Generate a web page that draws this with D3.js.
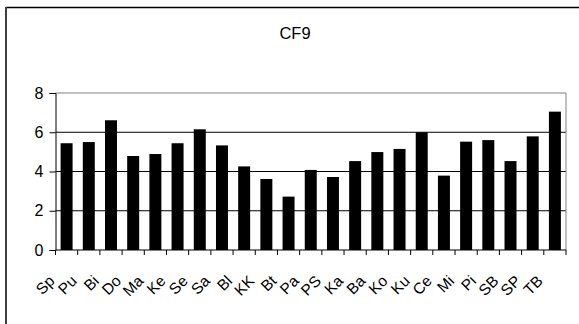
<!DOCTYPE html>
<html>
<head>
<meta charset="utf-8">
<script src="https://cdn.jsdelivr.net/npm/d3@7/dist/d3.min.js"></script>
<style>
  html, body { margin: 0; padding: 0; background: #fff; }
  svg { display: block; }
  text { font-family: "Liberation Sans", Arial, sans-serif; fill: #000; }
</style>
</head>
<body>
<svg id="chart" width="579" height="324"></svg>
<script>
// Site codes along the category axis
const categories = ["Sp", "Pu", "Bi", "Do", "Ma", "Ke", "Se", "Sa", "Bl", "KK", "Bt",
                    "Pa", "PS", "Ka", "Ba", "Ko", "Ku", "Ce", "Mi", "Pi", "SB", "SP", "TB"];
// CF9 value per site
const values = [5.44, 5.50, 6.61, 4.79, 4.89, 5.44, 6.15, 5.33, 4.26, 3.62, 2.72,
                4.08, 3.72, 4.53, 4.99, 5.15, 6.00, 3.79, 5.52, 5.60, 4.53, 5.79, 7.05];
const yTicks = [0, 2, 4, 6, 8];
const title = "CF9";

const svg = d3.select("#chart");
const W = 579, H = 324;
const plot = { left: 55.5, right: 566, top: 93, bottom: 250 };

// Outer chart frame (top and left edges visible)
svg.append("line").attr("x1", 6).attr("x2", W).attr("y1", 7.5).attr("y2", 7.5)
  .attr("stroke", "#000").attr("stroke-width", 1.5);
svg.append("line").attr("x1", 6).attr("x2", 6).attr("y1", 7).attr("y2", H)
  .attr("stroke", "#404040").attr("stroke-width", 2);

svg.append("text").attr("x", 295).attr("y", 39).attr("text-anchor", "middle")
  .attr("font-size", 16.5).text(title);

const x = d3.scaleBand().domain(categories).range([plot.left, plot.right]).paddingInner(0.46).paddingOuter(0.23);
const y = d3.scaleLinear().domain([0, 8]).range([plot.bottom, plot.top]);

// Horizontal gridlines
svg.append("g").selectAll("line").data(yTicks.filter(d => d > 0 && d < 8)).join("line")
  .attr("x1", plot.left).attr("x2", plot.right)
  .attr("y1", d => y(d)).attr("y2", d => y(d))
  .attr("stroke", "#000").attr("stroke-width", 1);

// Plot area border (top and right)
svg.append("path")
  .attr("d", `M${plot.left},${plot.top}H${plot.right}V${plot.bottom}`)
  .attr("fill", "none").attr("stroke", "#808080").attr("stroke-width", 1);

// Bars
svg.append("g").selectAll("rect").data(values).join("rect")
  .attr("x", (d, i) => x(categories[i]))
  .attr("width", x.bandwidth())
  .attr("y", d => y(d))
  .attr("height", d => y(0) - y(d))
  .attr("fill", "#000");

// Y axis
const yAxis = d3.axisLeft(y).tickValues(yTicks).tickSize(6).tickPadding(6).tickFormat(d3.format("d"));
const gy = svg.append("g").attr("transform", `translate(${plot.left},0)`).call(yAxis);
gy.selectAll("text").attr("font-size", 16).attr("font-family", "Liberation Sans, Arial, sans-serif").attr("fill", "#000");
gy.select(".domain").attr("stroke", "#000");
gy.selectAll(".tick line").attr("stroke", "#000");

// X axis: ticks between categories
const boundaries = d3.range(categories.length + 1).map(i => plot.left + i * (plot.right - plot.left) / categories.length);
const gx = svg.append("g");
gx.append("line").attr("x1", plot.left).attr("x2", plot.right)
  .attr("y1", plot.bottom).attr("y2", plot.bottom).attr("stroke", "#000");
gx.selectAll("line.tk").data(boundaries).join("line").attr("class", "tk")
  .attr("x1", d => d).attr("x2", d => d)
  .attr("y1", plot.bottom).attr("y2", plot.bottom + 5).attr("stroke", "#000");

// Rotated category labels
gx.selectAll("text").data(categories).join("text")
  .attr("text-anchor", "end")
  .attr("font-size", 15.5)
  .attr("transform", d => `translate(${x(d) + x.bandwidth() / 2 - 11},${plot.bottom + 32}) rotate(-45)`)
  .text(d => d);
</script>
</body>
</html>
